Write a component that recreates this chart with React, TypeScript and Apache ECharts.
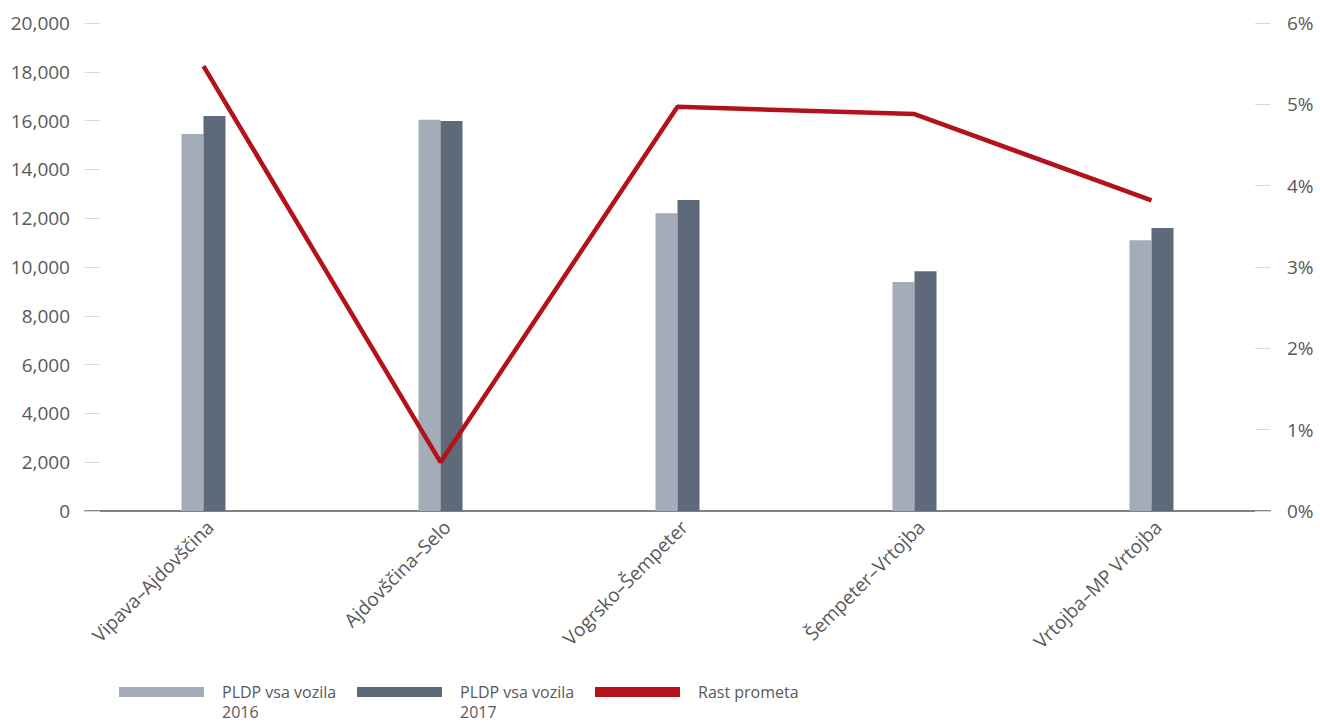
import React, { useEffect, useRef } from "react";
import * as echarts from "echarts";

const categories = [
  "Vipava–Ajdovščina",
  "Ajdovščina–Selo",
  "Vogrsko–Šempeter",
  "Šempeter–Vrtojba",
  "Vrtojba–MP Vrtojba",
];
const pldp2016 = [15450, 16030, 12200, 9390, 11100];
const pldp2017 = [16190, 15980, 12750, 9830, 11600];
const growth = [5.47, 0.6, 4.97, 4.88, 3.82];
const seriesNames = ["PLDP vsa vozila\n2016", "PLDP vsa vozila\n2017", "Rast prometa"];

const FONT = "'Open Sans', sans-serif";
const TEXT = "#595959";

export default function App() {
  const ref = useRef<HTMLDivElement>(null);
  useEffect(() => {
    if (!ref.current) return;
    const chart = echarts.init(ref.current, undefined, { renderer: "svg" });
    chart.setOption({
      animation: false,
      textStyle: { fontFamily: FONT },
      grid: { left: 85, right: 50, top: 23, bottom: 212, containLabel: false },
      legend: {
        left: 119,
        top: 662,
        padding: 0,
        itemGap: 10,
        itemWidth: 85,
        itemHeight: 10,
        data: [
          { name: seriesNames[0], icon: "rect" },
          { name: seriesNames[1], icon: "rect" },
          { name: seriesNames[2], icon: "rect", itemStyle: { color: "#b3121b" } },
        ],
        formatter: (name: string) => (name.indexOf("\n") >= 0 ? " \n" + name : name),
        textStyle: {
          color: TEXT,
          fontSize: 16,
          lineHeight: 20,
          width: 125,
          padding: [0, 0, 0, 13],
          fontFamily: FONT,
        },
      },
      xAxis: {
        type: "category",
        data: categories,
        axisLine: { lineStyle: { color: "#595959", width: 1.5 } },
        axisTick: { show: false },
        axisLabel: {
          rotate: 45,
          color: TEXT,
          fontSize: 19,
          margin: 6,
          verticalAlign: "top",
          fontFamily: FONT,
          interval: 0,
        },
      },
      yAxis: [
        {
          type: "value",
          min: 0,
          max: 20000,
          interval: 2000,
          axisLine: { show: false },
          axisTick: { show: true, inside: true, length: 15, lineStyle: { color: "#d9d9d9" } },
          splitLine: { show: false },
          axisLabel: {
            color: TEXT,
            fontSize: 19,
            margin: 15,
            fontFamily: FONT,
            formatter: (v: number) => v.toLocaleString("en-US"),
          },
        },
        {
          type: "value",
          min: 0,
          max: 6,
          interval: 1,
          axisLine: { show: false },
          axisTick: { show: true, inside: true, length: 15, lineStyle: { color: "#d9d9d9" } },
          splitLine: { show: false },
          axisLabel: { color: TEXT, fontSize: 19, margin: 17, fontFamily: FONT, formatter: "{value}%" },
        },
      ],
      series: [
        {
          name: seriesNames[0],
          type: "bar",
          data: pldp2016,
          barWidth: 22,
          barGap: "0%",
          itemStyle: { color: "#a3acb8" },
        },
        {
          name: seriesNames[1],
          type: "bar",
          data: pldp2017,
          barWidth: 22,
          barGap: "0%",
          itemStyle: { color: "#5e6a7a" },
        },
        {
          name: seriesNames[2],
          type: "line",
          yAxisIndex: 1,
          data: growth,
          symbol: "none",
          lineStyle: { color: "#b3121b", width: 4.5 },
          itemStyle: { color: "#b3121b" },
          z: 5,
        },
      ],
    });
    return () => chart.dispose();
  }, []);
  return <div ref={ref} style={{ width: 1320, height: 723, position: "absolute", left: 0, top: 0 }} />;
}
